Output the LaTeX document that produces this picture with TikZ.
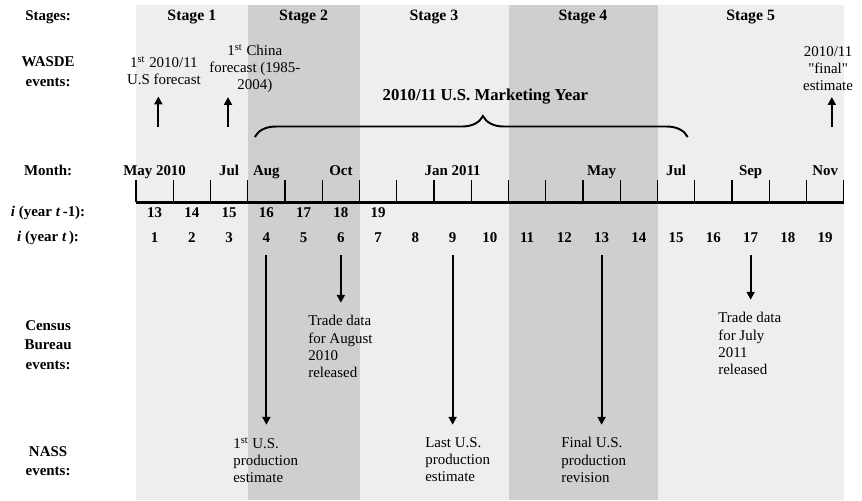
\documentclass[tikz,border=0pt]{standalone}
\usepackage{fontspec}
\setmainfont{Liberation Serif}
\usepackage{tikz}
\usetikzlibrary{arrows.meta, positioning, decorations.pathreplacing, calc}
\definecolor{bandlight}{HTML}{EEEEEE}
\definecolor{banddark}{HTML}{CFCFCF}

\begin{document}
\begin{tikzpicture}[x=0.745cm, y=-0.02cm, >={Triangle[length=4.5pt, width=4.5pt]},
    font=\fontsize{8.5}{9.8}\selectfont,
    rowlabel/.style={font=\fontsize{8.5}{11.3}\selectfont\bfseries, align=center},
    numlabel/.style={font=\fontsize{8.5}{10}\selectfont\bfseries},
    wasdetext/.style={align=center, anchor=south, inner sep=0pt, font=\fontsize{8.5}{9.7}\selectfont},
    note/.style={align=left, anchor=north west, inner sep=0pt},
    event/.style={->, line width=1.1pt}]
  \fill[white] (-3.651,0) rectangle (19.490,500);
  \useasboundingbox (-3.651,0) rectangle (19.490,500);

  % stage bands
  \fill[bandlight] (0,5) rectangle (3,500);
  \fill[banddark] (3,5) rectangle (6,500);
  \fill[bandlight] (6,5) rectangle (10,500);
  \fill[banddark] (10,5) rectangle (14,500);
  \fill[bandlight] (14,5) rectangle (19,500);
  \foreach \x/\n in {1.5/1, 4.5/2, 8/3, 12/4, 16.5/5} {
    \node[numlabel, font=\fontsize{9}{10}\selectfont\bfseries] (stage\n) at (\x,17) {Stage \n};
  }

  % row labels
  \node[rowlabel] (lstages) at (-2.36,17) {Stages:};
  \node[rowlabel] (lwasde) at (-2.36,72) {WASDE\\events:};
  \node[rowlabel, anchor=base] (lmonth) at (-2.36,175) {Month:};
  \node[rowlabel] (lprev) at (-2.36,213) {\textit{i} (year \textit{t}\,-1):};
  \node[rowlabel] (lcur) at (-2.36,238) {\textit{i} (year \textit{t}\,):};
  \node[rowlabel] (lcensus) at (-2.36,345) {Census\\Bureau\\events:};
  \node[rowlabel] (lnass) at (-2.36,461) {NASS\\events:};

  % timeline
  \draw[line width=1.7pt] (0,202) -- (19,202);
  \foreach \k in {0,...,19} {
    \draw[line width=0.6pt] (\k,180) -- (\k,202);
  }
  \foreach \x/\m [count=\j] in {0.5/May 2010, 2.5/Jul, 3.5/Aug, 5.5/Oct, 8.5/Jan 2011, 12.5/May, 14.5/Jul, 16.5/Sep, 18.5/Nov} {
    \node[numlabel, anchor=base] (month\j) at (\x,175) {\m};
  }
  \foreach \k in {13,...,19} {
    \node[numlabel] (prev\k) at (\k-12.5,213) {\k};
  }
  \foreach \k in {1,...,19} {
    \node[numlabel] (cur\k) at (\k-0.5,238) {\k};
  }

  % marketing year
  \coordinate (mystart) at (3.19,137);
  \coordinate (myend) at (14.81,137);
  \draw[line width=1.1pt, decorate, decoration={brace, amplitude=0.42cm, aspect=0.527}] (mystart) -- (myend);
  \node[font=\fontsize{9.5}{11}\selectfont\bfseries] (myear) at (9.38,97) {2010/11 U.S. Marketing Year};

  % WASDE events
  \node[wasdetext] (wasde1) at (0.75,85) {1\textsuperscript{st} 2010/11\\U.S forecast};
  \node[wasdetext] (wasde2) at (3.19,93) {1\textsuperscript{st} China\\forecast (1985-\\2004)};
  \node[wasdetext] (wasde3) at (18.58,91) {2010/11\\\textquotedbl final\textquotedbl\\estimate};
  \coordinate (up1) at (0.6,127);
  \coordinate (up2) at (2.47,127);
  \coordinate (up3) at (18.68,127);
  \draw[event, shorten >=6.5pt] (up1) -- (up1 |- wasde1.south);
  \draw[event, shorten >=2.3pt] (up2) -- (up2 |- wasde2.south);
  \draw[event, shorten >=3.4pt] (up3) -- (up3 |- wasde3.south);

  % Census Bureau and NASS events
  \node[note] (trade1) at (4.617,315) {Trade data\\for August\\2010\\released};
  \node[note] (trade2) at (15.624,312) {Trade data\\for July\\2011\\released};
  \node[note] (nass1) at (2.604,437) {1\textsuperscript{st} U.S.\\production\\estimate};
  \node[note] (nass2) at (7.758,437) {Last U.S.\\production\\estimate};
  \node[note] (nass3) at (11.409,437) {Final U.S.\\production\\revision};
  \foreach \k/\t in {4/nass1, 6/trade1, 9/nass2, 13/nass3, 17/trade2} {
    \coordinate (dn\k) at (\k-0.5,255);
    \draw[event, shorten >=7pt] (dn\k) -- (dn\k |- \t.north);
  }
\end{tikzpicture}
\end{document}
